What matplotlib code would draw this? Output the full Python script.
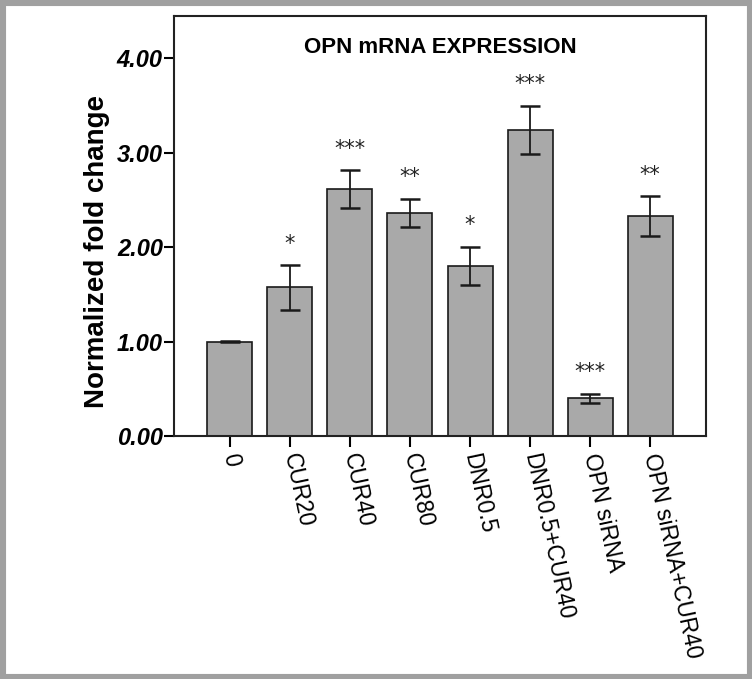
import matplotlib
matplotlib.use("Agg")
import matplotlib.pyplot as plt
from matplotlib.patches import Rectangle

categories = ["0", "CUR20", "CUR40", "CUR80", "DNR0.5", "DNR0.5+CUR40", "OPN siRNA", "OPN siRNA+CUR40"]
means = [1.00, 1.575, 2.62, 2.365, 1.805, 3.245, 0.40, 2.33]
errors = [0.005, 0.235, 0.20, 0.15, 0.20, 0.255, 0.05, 0.21]
stars = ["", "*", "***", "**", "*", "***", "***", "**"]
yticks = [0, 1, 2, 3, 4]
yticklabels = ["0.00", "1.00", "2.00", "3.00", "4.00"]

fig = plt.figure(figsize=(7.52, 6.79), dpi=100)
ax = fig.add_axes([174/752, 1-436/679, (706-174)/752, (436-16)/679])

x = list(range(len(categories)))
ax.bar(x, means, width=0.75, color="#a9a9a9", edgecolor="#1a1a1a", linewidth=1.2, zorder=2)
ax.errorbar(x, means, yerr=errors, fmt="none", ecolor="#1a1a1a", elinewidth=1.3,
            capsize=7, capthick=1.8, zorder=3)
for xi, m, e, s in zip(x, means, errors, stars):
    if s:
        ax.text(xi, m + e + 0.12, s, ha="center", va="bottom", fontsize=15,
                family="DejaVu Sans", color="#222222")

ax.set_xlim(-0.93, 7.93)
ax.set_ylim(0, 4.45)
ax.set_yticks(yticks)
ax.set_yticklabels(yticklabels, fontsize=17, fontweight="bold", style="italic",
                   family="Liberation Sans")
ax.set_xticks(x)
ax.set_xticklabels(categories, fontsize=16.5, family="Liberation Sans",
                   rotation=282, rotation_mode="anchor", ha="left", va="center")
ax.tick_params(axis="y", direction="out", length=7, width=1.5, pad=1)
ax.tick_params(axis="x", direction="out", length=8, width=1.5, pad=5)
for sp in ax.spines.values():
    sp.set_linewidth(1.5)
    sp.set_color("#222222")

ax.set_title("OPN mRNA EXPRESSION", fontsize=16, fontweight="bold",
             family="Liberation Sans", y=0.893)
fig.text(97/752, 1-252/679, "Normalized fold change", rotation=90, ha="center", va="center",
         fontsize=20, fontweight="bold", family="Liberation Sans")

fig.patches.append(Rectangle((0, 0), 1, 1, transform=fig.transFigure, fill=False,
                             edgecolor="#a0a0a0", linewidth=8))

fig.savefig("out.png", dpi=100)
